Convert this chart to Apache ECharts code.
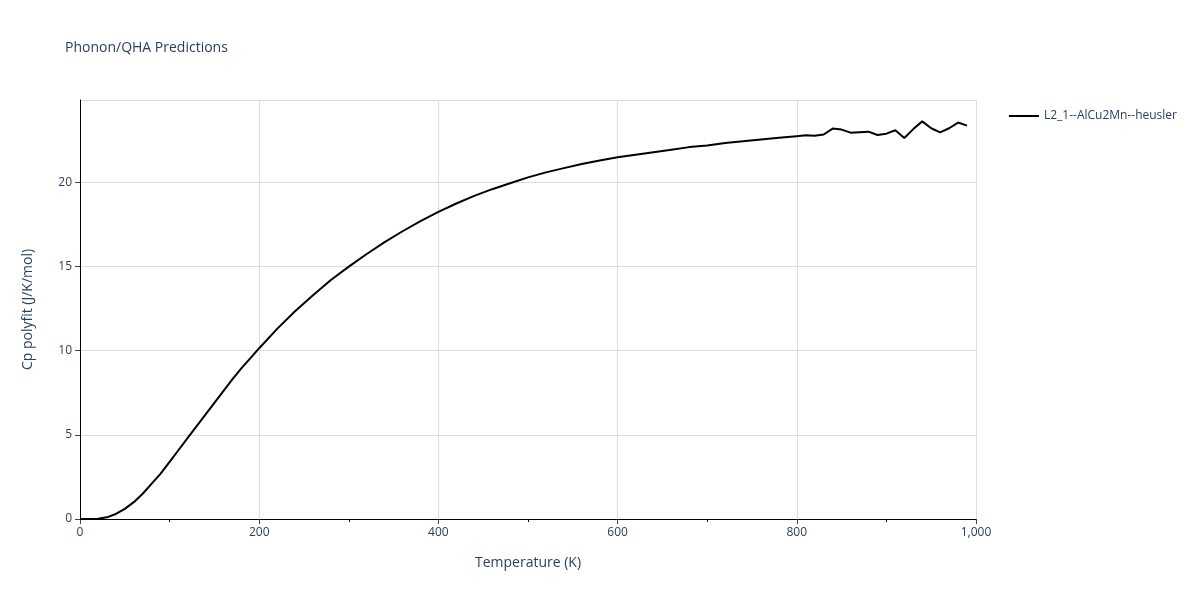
<!DOCTYPE html>
<html><head><meta charset="utf-8">
<script src="https://cdn.jsdelivr.net/npm/echarts@6/dist/echarts.min.js"></script>
<style>html,body{margin:0;padding:0}#c{width:1200px;height:600px}</style>
</head><body><div id="c"></div>
<script>
const seriesName = "L2_1--AlCu2Mn--heusler";
const temps = [0,10,20,30,40,50,60,70,80,90,100,110,120,130,140,150,160,170,180,190,200,220,240,260,280,300,320,340,360,380,400,420,440,460,480,500,520,540,560,580,600,620,640,660,680,700,720,740,760,780,800,810,820,830,840,850,860,880,890,900,910,920,930,940,950,960,970,980,990];
const cp = [0,0,0.02,0.1,0.3,0.6,1.0,1.5,2.1,2.7,3.4,4.1,4.8,5.5,6.2,6.9,7.6,8.3,8.95,9.55,10.15,11.3,12.35,13.3,14.2,15.0,15.75,16.45,17.1,17.7,18.25,18.75,19.2,19.6,19.95,20.3,20.6,20.85,21.1,21.3,21.5,21.65,21.8,21.95,22.1,22.2,22.35,22.45,22.55,22.65,22.75,22.8,22.77,22.85,23.2,23.14,22.96,23.02,22.82,22.9,23.1,22.64,23.17,23.63,23.22,22.98,23.22,23.56,23.38];
const font = "'Open Sans', sans-serif";
const chart = echarts.init(document.getElementById('c'));
chart.setOption({
  animation:false,
  title:{text:'Phonon/QHA Predictions',left:60,top:36,textStyle:{fontFamily:font,fontSize:14,fontWeight:'normal',color:'#2a3f5f'}},
  legend:{right:18,top:105,orient:'vertical',icon:'path://M0,0H30V2H0Z',itemWidth:30,itemHeight:2,textStyle:{fontFamily:font,fontSize:12,color:'#2a3f5f'},data:[seriesName]},
  grid:{left:80,right:224,top:100,bottom:81},
  xAxis:{type:'value',min:0,max:1000,interval:200,name:'Temperature (K)',nameLocation:'middle',nameGap:37,
    nameTextStyle:{fontFamily:font,fontSize:14,color:'#2a3f5f'},
    axisLine:{show:true,lineStyle:{color:'#000'}},axisTick:{show:true,length:5,lineStyle:{color:'#444'}},
    minorTick:{show:true,splitNumber:2,length:3},
    axisLabel:{fontFamily:font,fontSize:12,color:'#2a3f5f'},splitLine:{lineStyle:{color:'#ddd'}}},
  yAxis:{type:'value',min:0,max:24.9,interval:5,name:'Cp polyfit (J/K/mol)',nameLocation:'middle',nameGap:45,
    nameTextStyle:{fontFamily:font,fontSize:14,color:'#2a3f5f'},
    axisLine:{show:true,lineStyle:{color:'#000'}},axisTick:{show:true,length:5,lineStyle:{color:'#444'}},
    axisLabel:{fontFamily:font,fontSize:12,color:'#2a3f5f',showMaxLabel:false},splitLine:{lineStyle:{color:'#ddd'}}},
  series:[{name:seriesName,type:'line',showSymbol:false,lineStyle:{color:'#000',width:2},itemStyle:{color:'#000'},
    data:temps.map((t,i)=>[t,cp[i]])}]
});
</script></body></html>
